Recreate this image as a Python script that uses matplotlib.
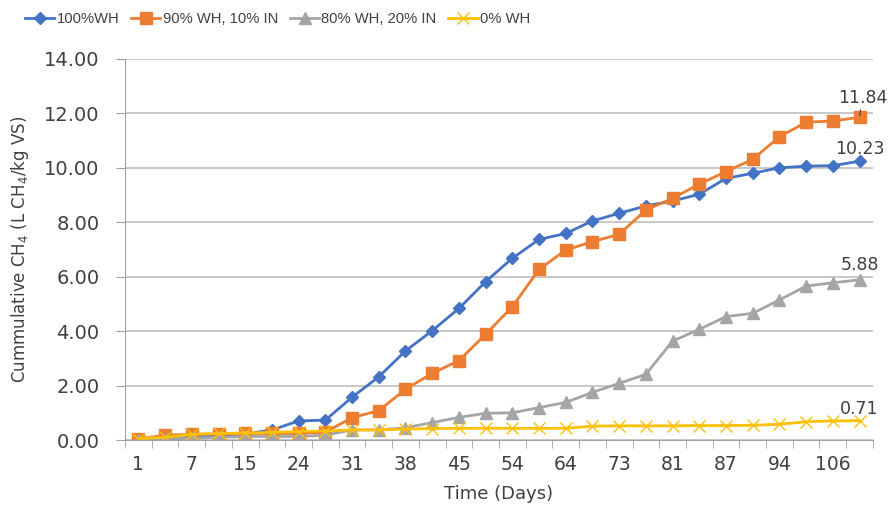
import numpy as np
import matplotlib.pyplot as plt

# -----------------------------------------------------------------------------
# DATA
# -----------------------------------------------------------------------------
days = [1, 4, 7, 11, 15, 20, 24, 27, 31, 34, 38, 41, 45, 49,
        54, 59, 64, 68, 73, 77, 81, 84, 87, 91, 94, 101, 106, 110]

wh_100 = [0.02, 0.05, 0.10, 0.18, 0.22, 0.37, 0.70, 0.73, 1.57, 2.32,
          3.27, 4.01, 4.83, 5.81, 6.67, 7.36, 7.58, 8.04, 8.32, 8.59,
          8.77, 9.02, 9.60, 9.79, 9.99, 10.05, 10.07, 10.23]
wh_90 = [0.04, 0.18, 0.21, 0.22, 0.24, 0.24, 0.24, 0.29, 0.82, 1.08,
         1.86, 2.45, 2.91, 3.88, 4.89, 6.26, 6.97, 7.28, 7.55, 8.44,
         8.87, 9.39, 9.85, 10.30, 11.13, 11.66, 11.71, 11.84]
wh_80 = [0.00, 0.05, 0.07, 0.10, 0.13, 0.13, 0.13, 0.18, 0.37, 0.37,
         0.45, 0.64, 0.83, 0.98, 1.00, 1.19, 1.38, 1.75, 2.08, 2.41,
         3.63, 4.06, 4.53, 4.65, 5.14, 5.65, 5.77, 5.88]
wh_0 = [0.05, 0.10, 0.21, 0.24, 0.26, 0.28, 0.31, 0.33, 0.37, 0.37,
        0.40, 0.42, 0.43, 0.43, 0.43, 0.43, 0.43, 0.51, 0.52, 0.52,
        0.52, 0.53, 0.53, 0.54, 0.58, 0.67, 0.70, 0.71]

labels = ["100%WH", "90% WH, 10% IN", "80% WH, 20% IN", "0% WH"]
colors = ["#4472C4", "#ED7D31", "#A5A5A5", "#FFC000"]

# -----------------------------------------------------------------------------
# FIGURE
# -----------------------------------------------------------------------------
fig = plt.figure(figsize=(8.88, 5.07), dpi=100)
ax = fig.add_axes([0.1408, 0.1321, 0.8422, 0.7525])

x = np.arange(len(days))
series = [wh_100, wh_90, wh_80, wh_0]
markers = [("D", 6.5, 0), ("s", 9, 0), ("^", 9, 0), ("x", 9, 1.0)]

handles = []
for y, lab, col, (m, ms, mew) in zip(series, labels, colors, markers):
    kw = dict(color=col, linewidth=2.0, marker=m, markersize=ms, label=lab)
    if m == "x":
        kw["markeredgewidth"] = mew
    else:
        kw["markeredgecolor"] = col
    h, = ax.plot(x, y, **kw)
    handles.append(h)

# data labels on the last point (11.84 has a small leader line)
offsets = [(0, 2), (2, 7.5), (0, 4), (0, 2)]
for k, (y, (dx, dy)) in enumerate(zip(series, offsets)):
    arrow = None
    if k == 1:
        arrow = dict(arrowstyle="-", color="#404040", lw=0.8,
                     shrinkA=0, shrinkB=1)
    ax.annotate(f"{y[-1]:.2f}", xy=(x[-1], y[-1]), xytext=(dx, dy),
                textcoords="offset points", ha="center", va="bottom",
                fontsize=12.5, color="#404040", arrowprops=arrow)

# -----------------------------------------------------------------------------
# AXES
# -----------------------------------------------------------------------------
ax.set_xlim(-0.5, len(days) - 0.5)
ax.set_ylim(0, 14)
ax.set_yticks(np.arange(0, 14.1, 2))
ax.set_yticklabels([f"{v:.2f}" for v in np.arange(0, 14.1, 2)])

ax.set_xticks(x[::2])
ax.set_xticklabels([str(d) for d in days[::2]])
ax.set_xticks(np.arange(-0.5, len(days), 1), minor=True)
ax.tick_params(axis="x", which="major", length=0, pad=11,
               labelsize=13.5, labelcolor="#404040")
ax.tick_params(axis="x", which="minor", length=6, color="#A0A0A0",
               direction="out")
ax.tick_params(axis="y", length=6.5, color="#A0A0A0", labelsize=14,
               labelcolor="#404040", pad=12)

ax.grid(axis="y", color="#BFBFBF", linewidth=1.2)
ax.set_axisbelow(True)
for s in ["top", "right"]:
    ax.spines[s].set_visible(False)
ax.spines["left"].set_color("#A0A0A0")
ax.spines["bottom"].set_color("#A0A0A0")

ax.set_xlabel("Time (Days)", fontsize=13, color="#404040", labelpad=8)
ax.set_ylabel(r"Cummulative CH$_4$ (L CH$_4$/kg VS)", fontsize=12,
              color="#404040", family="DejaVu Sans", labelpad=9.5)

fig.legend(handles=handles, loc="upper left", bbox_to_anchor=(0.013, 1.002),
           ncol=4, frameon=False, handlelength=2.0,
           columnspacing=0.8, handletextpad=0.15,
           prop={"family": "Liberation Sans", "size": 10.6})
for t in fig.legends[0].get_texts():
    t.set_color("#404040")

plt.savefig("out.png", dpi=100)
